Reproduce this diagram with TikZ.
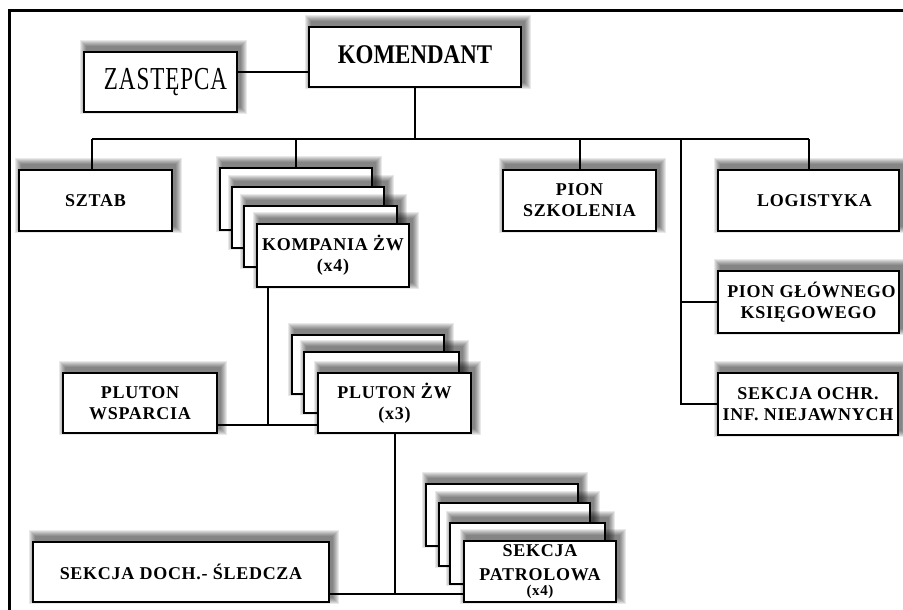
\documentclass[tikz,border=0pt]{standalone}
\usepackage{fontspec}
\setmainfont{Liberation Serif}
\newfontfamily\headfont[FakeStretch=0.85]{Liberation Serif}
\newfontfamily\deputyfont[FakeStretch=0.72,LetterSpace=3]{Liberation Serif}
\newfontfamily\unitfont[LetterSpace=4]{Liberation Serif}

\tikzset{
  unitbox/.style={draw=black, fill=white, line width=2pt, inner sep=0pt, outer sep=0pt,
    align=center, font=\unitfont\bfseries\fontsize{18}{21}\selectfont},
  link/.style={draw=black, line width=2pt},
  shadowtint/.style={fill=black, opacity=0.085}
}

% A box given by its corners (x1,y1)-(x2,y2), with a soft shadow drawn first
\newcommand\chartbox[6]{%
  \foreach \k in {1,...,7}{%
    \fill[shadowtint] ({#2-\k+3},{#3-\k-5}) rectangle ({#4+\k+3},{#5+\k-5});}
  \node[unitbox, minimum width={(#4-#2)*1pt}, minimum height={(#5-#3)*1pt}]
    (#1) at ({(#2+#4)/2},{(#3+#5)/2}) {#6};
}

\begin{document}
\begin{tikzpicture}[x=1pt, y=-1pt]
  \useasboundingbox[fill=white] (0,0) rectangle (903,610);

  % outer frame (top and left edges)
  \draw[line width=3pt] (9,610) -- (9,11) -- (903,11);

  % command level
  \chartbox{kom}{309}{27}{521}{87}{\headfont\bfseries\fontsize{27}{27}\selectfont\raisebox{5pt}{KOMENDANT}}
  \chartbox{zas}{84}{52}{237}{112}{\deputyfont\mdseries\fontsize{32}{32}\selectfont\hspace*{10pt}ZASTĘPCA}

  % second level
  \chartbox{sztab}{19}{170}{172}{231}{SZTAB}
  \chartbox{kp1}{220}{168}{372}{230}{}
  \chartbox{kp2}{232}{187}{384}{248}{}
  \chartbox{kp3}{244}{206}{397}{267}{}
  \chartbox{kf}{257}{224}{409}{287}{KOMPANIA ŻW\\(x4)}
  \chartbox{pion}{503}{170}{656}{231}{PION\\SZKOLENIA}
  \chartbox{logi}{718}{170}{899}{231}{\hspace*{12pt}LOGISTYKA}
  \chartbox{glow}{718}{271}{899}{333}{\hspace*{6pt}PION GŁÓWNEGO\\KSIĘGOWEGO}
  \chartbox{ochr}{718}{373}{898}{435}{SEKCJA OCHR.\\INF. NIEJAWNYCH}

  % platoon level
  \chartbox{pw}{63}{373}{217}{433}{PLUTON\\WSPARCIA}
  \chartbox{pp1}{292}{335}{444}{394}{}
  \chartbox{pp2}{304}{352}{459}{413}{}
  \chartbox{pf}{318}{373}{471}{433}{PLUTON ŻW\\(x3)}

  % section level
  \chartbox{sd}{33}{542}{329}{602}{SEKCJA DOCH.- ŚLEDCZA}
  \chartbox{sp1}{426}{484}{578}{546}{}
  \chartbox{sp2}{439}{503}{590}{566}{}
  \chartbox{sp3}{450}{523}{605}{584}{}
  \chartbox{sf}{464}{541}{616}{602}{SEKCJA\\[3pt]PATROLOWA\\[-6pt]{\fontsize{15}{15}\selectfont(x4)}}

  % connectors
  \draw[link] ([yshift=10pt]zas.east) -- ([yshift=10pt]zas.east -| kom.west);

  \coordinate (busL) at (92,139);
  \coordinate (spine) at (681,139);
  \draw[link] (kom.south) -- (kom.south |- busL);
  \draw[link] (busL) -- (busL -| logi.north);
  \draw[link] (busL) -- (busL |- sztab.north);
  \draw[link] (kp1.north |- busL) -- (kp1.north);
  \draw[link] (pion.north |- busL) -- (pion.north);
  \draw[link] (logi.north |- busL) -- (logi.north);
  \draw[link] (spine) |- (glow.west);
  \draw[link] (spine) |- (ochr.west);

  \coordinate (kd) at ([xshift=11pt]kf.south west);
  \coordinate (pbus) at ([yshift=8pt]pw.south east);
  \draw[link] (pbus) -- (pbus -| pf.west);
  \draw[link] (kd) -- (kd |- pbus);

  \coordinate (sbus) at ([yshift=8pt]sd.south east);
  \draw[link] (sbus) -- (sbus -| sf.west);
  \draw[link] (pf.south) -- (pf.south |- sbus);
\end{tikzpicture}
\end{document}
